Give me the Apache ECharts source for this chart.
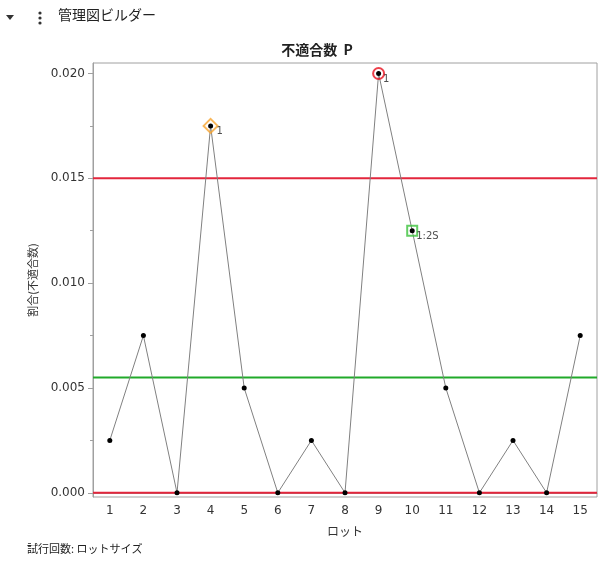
<!DOCTYPE html>
<html><head><meta charset="utf-8">
<script src="https://cdn.jsdelivr.net/npm/echarts@6/dist/echarts.min.js"></script>
<style>html,body{margin:0;padding:0;background:#fff}#c{width:605px;height:562px}</style>
</head><body><div id="c"></div>
<script>
const lots = ['1','2','3','4','5','6','7','8','9','10','11','12','13','14','15'];
const pValues = [0.0025,0.0075,0,0.0175,0.005,0,0.0025,0,0.02,0.0125,0.005,0,0.0025,0,0.0075];
const ucl = 0.0150;
const cl = 0.0055;
const lcl = 0;
const yTicks = [0,0.005,0.010,0.015,0.020];
const yMinorTicks = [0.0025,0.0075,0.0125,0.0175];
const flagDiamond = [['4',0.0175,'1']];
const flagCircle = [['9',0.02,'1']];
const flagSquare = [['10',0.0125,'1:2S']];

const FONT = "'DejaVu Sans','Noto Sans CJK JP',sans-serif";
const JP = "'Noto Sans CJK JP',sans-serif";
const chart = echarts.init(document.getElementById('c'));
const flagLabel = {show:true, position:'right', offset:[-7,6], fontSize:10, color:'#222', fontFamily:FONT, formatter:p=>p.value[2]};
function limitSeries(v, color){
  return {type:'line', xAxisIndex:1, data:[[0,v],[1,v]], symbol:'none', silent:true, z:3,
    lineStyle:{color:color, width:2}};
}
chart.setOption({
  animation:false,
  title:{text:'不適合数  P', left:312, top:38, textAlign:'center',
    textStyle:{fontSize:14, fontWeight:'bold', color:'#222', fontFamily:JP}},
  graphic:[
    {type:'polygon', shape:{points:[[6,15],[14,15],[10,20]]}, style:{fill:'#333'}},
    {type:'circle', shape:{cx:40,cy:13,r:1.6}, style:{fill:'#333'}},
    {type:'circle', shape:{cx:40,cy:18,r:1.6}, style:{fill:'#333'}},
    {type:'circle', shape:{cx:40,cy:23,r:1.6}, style:{fill:'#333'}},
    {type:'text', left:58, top:8, style:{text:'管理図ビルダー', fontSize:14, fill:'#222', fontFamily:JP}},
    {type:'text', left:27, top:543, style:{text:'試行回数: ロットサイズ', fontSize:11, fill:'#222', fontFamily:JP}}
  ],
  grid:{left:93, right:8, top:63, bottom:65, show:true, borderColor:'#a0a0a0', borderWidth:1},
  xAxis:[{type:'category', data:lots, boundaryGap:true,
    name:'ロット', nameLocation:'middle', nameGap:28,
    nameTextStyle:{fontSize:12, color:'#333', fontFamily:JP},
    axisLine:{lineStyle:{color:'#a0a0a0'}}, axisTick:{show:false},
    axisLabel:{fontSize:12, color:'#333', fontFamily:FONT, margin:8}},
   {type:'value', min:0, max:1, show:false}],
  yAxis:[{type:'value', min:-0.0002, max:0.0205,
    name:'割合(不適合数)', nameLocation:'middle', nameGap:55,
    nameTextStyle:{fontSize:11, color:'#333', fontFamily:JP},
    axisLine:{show:true, lineStyle:{color:'#a0a0a0'}},
    axisTick:{show:true, length:5, customValues:yTicks, lineStyle:{color:'#a0a0a0'}},
    axisLabel:{customValues:yTicks, fontSize:12, color:'#333', fontFamily:FONT, formatter:v=>v.toFixed(3)},
    splitLine:{show:false}},
   {type:'value', min:-0.0002, max:0.0205, position:'left',
    axisLine:{show:false}, axisLabel:{show:false}, splitLine:{show:false},
    axisTick:{show:true, length:3, customValues:yMinorTicks, lineStyle:{color:'#a0a0a0'}}}],
  series:[
    limitSeries(ucl,'#e3263c'),
    limitSeries(cl,'#21aa2a'),
    limitSeries(lcl,'#e3263c'),
    {type:'line', data:pValues, symbol:'circle', symbolSize:5,
      lineStyle:{color:'#808080', width:1}, itemStyle:{color:'#000'}, z:5},
    {type:'scatter', data:flagDiamond, symbol:'diamond', symbolSize:[14,14], z:6,
      itemStyle:{color:'rgba(0,0,0,0)', borderColor:'#f7a531', borderWidth:2}, label:flagLabel},
    {type:'scatter', data:flagCircle, symbol:'circle', symbolSize:11, z:6,
      itemStyle:{color:'rgba(0,0,0,0)', borderColor:'#e8101e', borderWidth:2}, label:flagLabel},
    {type:'scatter', data:flagSquare, symbol:'rect', symbolSize:10, z:6,
      itemStyle:{color:'rgba(0,0,0,0)', borderColor:'#3cc23c', borderWidth:2}, label:flagLabel}
  ]
});
</script></body></html>
